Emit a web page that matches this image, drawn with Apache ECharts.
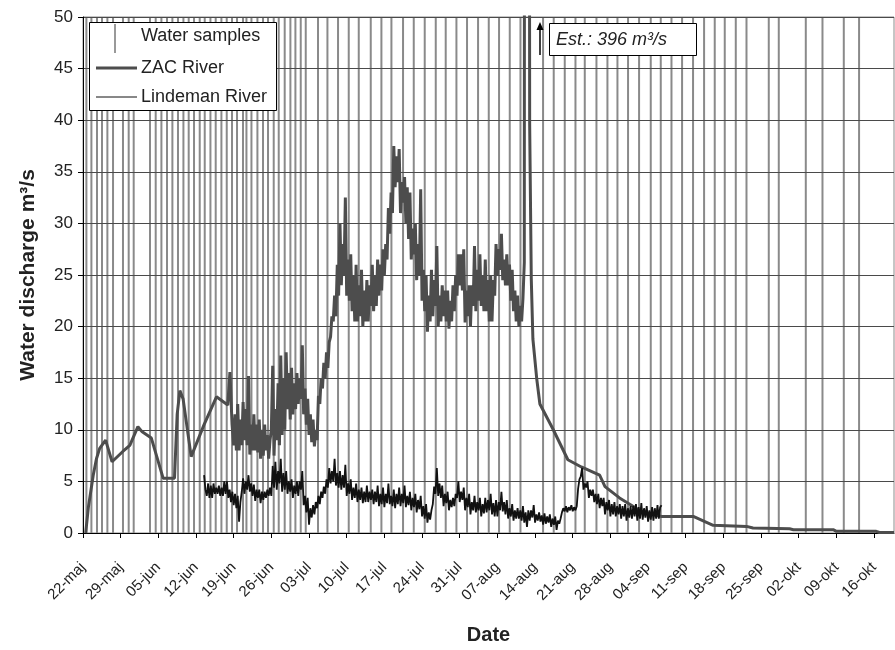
<!DOCTYPE html>
<html>
<head>
<meta charset="utf-8">
<script src="https://cdn.jsdelivr.net/npm/echarts@6/dist/echarts.min.js"></script>
<style>html,body{margin:0;padding:0;background:#fff}#c{width:895px;height:650px}</style>
</head>
<body>
<div id="c"></div>
<script>
// x is days after 22-maj
var xTickLabels = ['22-maj','29-maj','05-jun','12-jun','19-jun','26-jun','03-jul','10-jul','17-jul','24-jul','31-jul','07-aug','14-aug','21-aug','28-aug','04-sep','11-sep','18-sep','25-sep','02-okt','09-okt','16-okt'];
var yTicks = [0,5,10,15,20,25,30,35,40,45,50];

var sampleDays = [0.63,1.56,2.6,3.53,4.53,5.58,7.43,8.49,9.42,12.45,13.51,14.57,15.61,16.61,17.65,18.66,19.64,20.63,21.69,22.62,23.68,24.66,25.72,26.71,27.69,28.62,29.73,30.37,31.3,32.41,33.45,34.38,35.44,36.37,37.48,38.54,39.47,40.46,41.39,43.67,45.42,47.39,49.38,51.24,53.47,55.45,57.31,59.47,61.46,63.5,65.55,67.4,69.39,71.36,73.41,75.4,77.31,79.3,81.29,85.49,87.47,89.52,91.51,93.24,95.41,97.45,99.31,101.28,103.33,105.5,107.36,109.35,111.32,113.36,115.41,117.39,119.25,121.3,123.29,127.43,129.29,134.31,137.41,141.37,144.21];
var sampleTop = 50;

// ZAC River
var zacHead = [[0.5,0],[1.0,2.5],[1.9,5.6],[2.5,7.2],[3.1,8.2],[4.2,9.0],[5.4,6.9],[7.4,7.9],[8.7,8.5],[10.2,10.3],[11.0,9.8],[12.7,9.2],[14.9,5.3],[17.0,5.3],[17.5,11.5],[18.0,13.8],[18.6,13.0],[20.1,7.4],[22.5,10.5],[24.8,13.2],[26.9,12.4],[27.3,15.6],[27.7,10.5]];
var zacNoisyStart = 28.0, zacNoisyStep = 0.25;
var zacNoisy = [
  8.5,11.5,8.0,12.5, 8.0,11.0,8.5,12.7, 9.0,12.0,8.5,15.2, 7.6,10.5,8.0,11.5,
  8.0,10.5,7.8,11.0, 7.2,10.0,7.5,10.5, 8.0,9.5,7.2,9.0, 10.0,16.2,7.5,12.0,
  9.0,14.5,8.5,17.2, 9.5,15.0,10.0,17.5, 12.0,15.5,11.0,16.0, 11.5,14.5,12.0,15.5,
  12.5,15.0,13.0,18.2, 11.5,14.0,10.5,13.0, 9.5,11.5,8.8,11.0, 8.4,10.0,9.0,13.3,
  12.5,15.0,14.0,16.5, 15.0,17.5,16.0,18.5, 19.0,21.0,20.5,23.0, 21.0,26.0,23.0,30.0,
  24.0,28.0,25.0,32.5, 23.0,26.5,22.5,27.0, 21.5,25.0,20.5,26.0, 20.5,24.0,21.0,25.5,
  20.0,23.5,20.5,24.5, 20.5,24.0,22.0,26.0, 21.5,25.0,22.0,26.5, 23.0,26.0,23.5,27.5,
  25.0,28.0,26.5,31.5, 29.0,33.0,31.0,37.5, 33.5,36.5,34.0,37.2, 31.0,34.0,32.0,34.5,
  30.0,33.5,28.5,33.0, 26.5,29.5,27.0,30.0, 24.5,28.0,25.0,33.3, 22.5,25.5,21.5,25.0,
  19.5,23.0,20.5,25.5, 21.0,24.5,22.0,27.8, 20.0,23.0,20.5,24.0, 21.0,23.5,20.5,23.5,
  19.8,22.5,20.5,24.0, 21.5,25.0,23.0,27.0, 24.0,27.0,23.5,27.5, 20.4,23.5,21.0,24.0,
  20.0,24.0,22.0,27.8, 21.5,25.5,22.5,27.0, 22.0,25.0,21.5,26.5, 21.5,24.5,20.5,25.0,
  20.5,24.5,23.0,28.0, 25.0,27.5,25.5,29.0, 24.5,26.5,24.0,27.0, 24.0,26.0,22.5,25.5,
  21.5,23.5,20.5,23.0, 20.0,22.0,20.5,22.7, 26.2];
var zacTail = [[82.3,396],[83.0,39.6],[83.3,24.6],[83.6,18.8],[84.3,15.0],[84.9,12.5],[87.3,10.1],[90.1,7.1],[92.6,6.4],[96.0,5.6],[97.0,4.5],[99.7,3.4],[102.2,2.6],[103.5,2.1],[107.5,1.6],[113.4,1.6],[117.1,0.74],[123.3,0.64],[124.5,0.48],[131.3,0.41],[132.0,0.32],[139.4,0.32],[140.0,0.16],[147.4,0.16],[148.0,0.05],[150.7,0.05]];

// Lindeman River
var linStart = 22.5, linStep = 0.25;
var linNoisy = [
  5.6,4.2,
  3.6,4.8,3.4,4.6, 3.4,4.8,3.8,4.4, 3.8,4.6,3.6,4.4, 3.6,5.0,3.8,5.0,
  3.4,4.2,3.0,4.0, 2.7,3.8,2.4,3.6, 1.1,3.0,4.0,5.3, 3.8,5.0,4.2,5.6,
  4.0,4.8,3.6,4.7, 3.1,4.2,3.4,4.2, 2.9,4.0,3.2,4.0, 3.4,4.2,3.6,4.4,
  3.6,6.5,4.4,6.9, 4.2,6.0,4.8,7.2, 4.0,5.8,4.2,6.0, 3.8,5.0,4.0,5.2,
  3.4,4.6,3.8,5.0, 3.6,5.0,4.2,6.0, 2.7,3.6,2.0,3.4, 0.8,2.4,1.5,2.7,
  1.8,3.0,2.4,3.6, 2.8,4.0,3.4,4.5, 3.8,5.2,4.4,6.3, 4.8,6.0,5.0,7.2,
  4.6,5.8,4.4,6.0, 4.2,5.6,4.4,6.6, 3.6,4.8,3.8,5.2, 3.2,4.4,3.4,4.8,
  3.0,4.2,3.2,4.4, 2.9,4.0,3.0,4.6, 3.0,4.0,3.2,4.2, 2.8,4.0,3.0,4.6,
  2.6,3.8,2.8,4.4, 2.5,3.8,2.9,4.8, 2.8,3.6,2.6,4.2, 2.4,3.8,2.8,4.4,
  2.6,3.8,2.9,4.6, 2.5,3.6,2.7,4.0, 2.2,3.4,2.5,3.8, 2.0,3.2,2.3,3.6,
  1.6,2.6,1.4,2.8, 1.0,2.0,1.3,2.2, 2.8,4.5,3.8,6.3, 3.6,4.8,3.4,4.6,
  2.6,3.8,2.9,4.0, 2.2,3.2,2.5,3.4, 2.6,3.8,3.4,5.0, 3.0,4.0,3.2,4.4,
  2.2,3.4,2.5,3.8, 1.8,3.0,2.2,3.6, 2.0,3.0,2.2,3.4, 1.6,2.8,1.9,3.4,
  2.0,3.2,2.2,3.8, 1.8,2.9,1.6,3.2, 1.6,3.0,2.2,4.0, 2.1,3.0,1.8,3.2,
  1.4,2.4,1.6,2.8, 1.2,2.2,1.4,2.4, 1.4,2.2,1.2,2.6, 1.0,2.0,0.6,2.2,
  1.2,2.2,1.5,2.7, 1.0,1.8,1.2,2.0, 1.1,1.7,0.8,1.9, 0.9,1.6,1.0,1.8,
  0.6,1.4,0.8,1.6, 0.3,1.2,0.9,1.4, 2.0,2.4,2.1,2.6, 2.0,2.5,2.2,2.7,
  2.1,2.5,2.2,2.6, 4.3,5.2,5.5,6.3, 4.2,4.8,4.4,5.0, 3.4,4.2,3.6,4.2,
  3.0,3.8,2.8,3.8, 2.4,3.4,2.6,3.4, 1.8,3.0,2.2,3.2, 1.6,2.8,1.8,3.0,
  1.6,2.6,1.8,2.8, 1.4,2.6,1.6,2.8, 1.2,2.4,1.5,2.6, 1.4,2.6,1.6,2.8,
  1.2,2.5,1.4,2.9, 1.3,2.4,1.5,2.6, 1.1,2.2,1.3,2.5, 1.2,2.4,1.4,2.7,
  1.4,2.5,2.7];

var zacData = zacHead.slice();
zacNoisy.forEach(function (v, i) { zacData.push([zacNoisyStart + i * zacNoisyStep, v]); });
zacTail.forEach(function (p) { zacData.push(p); });
var linData = linNoisy.map(function (v, i) { return [linStart + i * linStep, v]; });
var sampleData = sampleDays.map(function (d) { return [d, sampleTop]; });

var FONT = 'Liberation Sans, Arial, sans-serif';
var chart = echarts.init(document.getElementById('c'), null, {renderer: 'canvas'});
chart.setOption({
  animation: false,
  backgroundColor: '#fff',
  grid: {left: 83, top: 17, right: 1, bottom: 115, show: true, borderColor: '#8c8c8c', borderWidth: 1, backgroundColor: 'transparent'},
  xAxis: {
    type: 'value', min: 0, max: 150.7, interval: 7,
    name: 'Date', nameLocation: 'middle', nameGap: 92,
    nameTextStyle: {fontFamily: FONT, fontSize: 20, fontWeight: 'bold', color: '#222'},
    axisLine: {show: true, onZero: false, lineStyle: {color: '#000', width: 1}},
    axisTick: {show: true, length: 5, lineStyle: {color: '#000'}},
    splitLine: {show: false},
    axisLabel: {
      rotate: 45, margin: 32, fontFamily: FONT, fontSize: 15, color: '#222', showMaxLabel: false,
      formatter: function (v) { var k = v / 7; return Math.abs(k - Math.round(k)) < 1e-6 ? (xTickLabels[Math.round(k)] || '') : ''; }
    }
  },
  yAxis: {
    type: 'value', min: yTicks[0], max: yTicks[yTicks.length - 1], interval: 5,
    name: 'Water discharge m³/s', nameLocation: 'middle', nameGap: 44,
    nameTextStyle: {fontFamily: FONT, fontSize: 21, fontWeight: 'bold', color: '#222'},
    axisLine: {show: true, lineStyle: {color: '#000', width: 1}},
    axisTick: {show: true, length: 5, lineStyle: {color: '#000'}},
    splitLine: {show: true, lineStyle: {color: '#4a4a4a', width: 1}},
    axisLabel: {margin: 10, fontFamily: FONT, fontSize: 17, color: '#222'}
  },
  series: [
    {name: 'Water samples', type: 'bar', data: sampleData, barWidth: 2, z: -1,
     itemStyle: {color: '#8a8a8a'}, silent: true},
    {name: 'ZAC River', type: 'line', data: zacData, showSymbol: false, clip: true,
     lineStyle: {color: '#4d4d4d', width: 3}, z: 3},
    {name: 'Lindeman River', type: 'line', data: linData, showSymbol: false, clip: true,
     lineStyle: {color: '#111', width: 1.8}, z: 4}
  ],
  graphic: [
    {type: 'rect', left: 89, top: 22, shape: {width: 187, height: 88}, style: {fill: '#fff', stroke: '#000', lineWidth: 1}, z: 100},
    {type: 'line', shape: {x1: 115, y1: 24, x2: 115, y2: 53}, style: {stroke: '#999', lineWidth: 2}, z: 101},
    {type: 'text', x: 141, y: 36, style: {text: 'Water samples', fontFamily: FONT, fontSize: 18, fill: '#222', textVerticalAlign: 'middle'}, z: 101},
    {type: 'line', shape: {x1: 96, y1: 68, x2: 137, y2: 68}, style: {stroke: '#4d4d4d', lineWidth: 3}, z: 101},
    {type: 'text', x: 141, y: 68, style: {text: 'ZAC River', fontFamily: FONT, fontSize: 18, fill: '#222', textVerticalAlign: 'middle'}, z: 101},
    {type: 'line', shape: {x1: 96, y1: 97, x2: 137, y2: 97}, style: {stroke: '#111', lineWidth: 1}, z: 101},
    {type: 'text', x: 141, y: 97, style: {text: 'Lindeman River', fontFamily: FONT, fontSize: 18, fill: '#222', textVerticalAlign: 'middle'}, z: 101},
    {type: 'rect', left: 549, top: 23, shape: {width: 147, height: 32}, style: {fill: '#fff', stroke: '#000', lineWidth: 1}, z: 100},
    {type: 'text', x: 556, y: 40, style: {text: 'Est.: 396 m³/s', fontFamily: FONT, fontSize: 18, fontStyle: 'italic', fill: '#222', textVerticalAlign: 'middle'}, z: 101},
    {type: 'line', shape: {x1: 540, y1: 55, x2: 540, y2: 28}, style: {stroke: '#000', lineWidth: 1.5}, z: 101},
    {type: 'polygon', shape: {points: [[536.5, 30], [540, 22], [543.5, 30]]}, style: {fill: '#000'}, z: 101}
  ]
});
</script>
</body>
</html>
